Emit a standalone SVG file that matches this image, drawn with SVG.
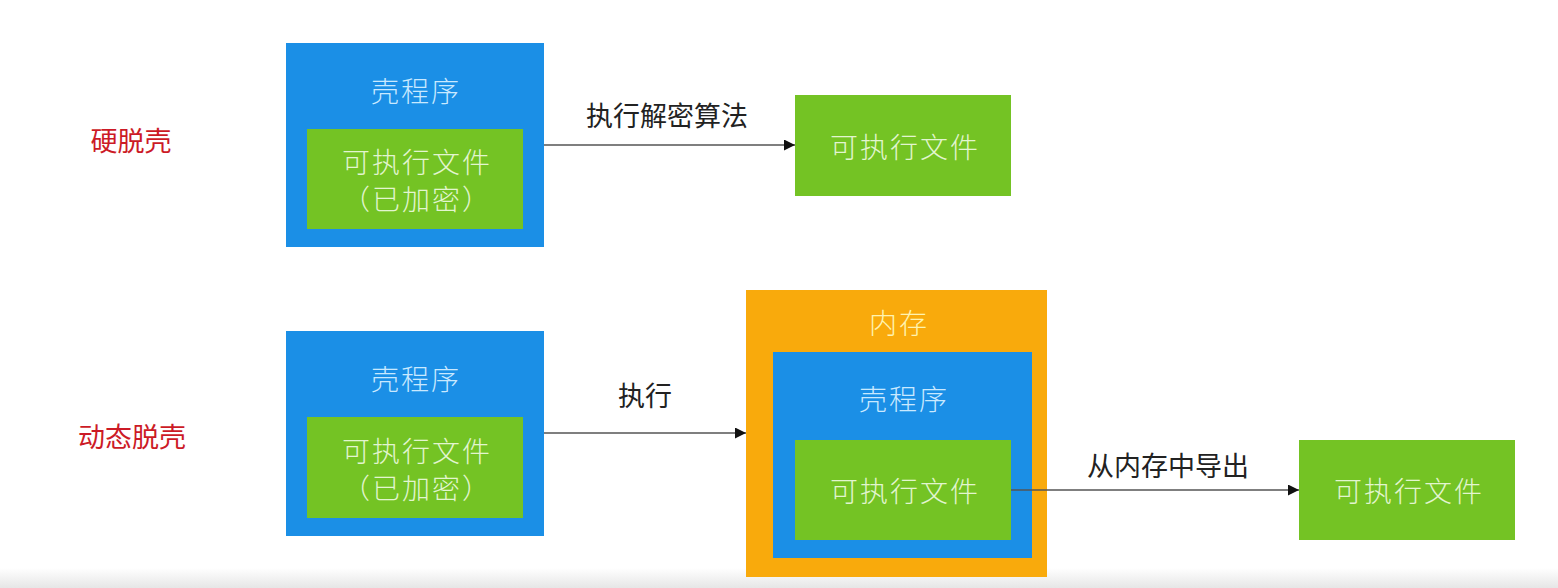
<svg xmlns="http://www.w3.org/2000/svg" width="1558" height="588" viewBox="0 0 1558 588">
<defs>
<marker id="arr" viewBox="0 0 10 10" refX="10" refY="5" markerWidth="11" markerHeight="11" markerUnits="userSpaceOnUse" orient="auto"><path d="M0,0 L10,5 L0,10 z" fill="#111"/></marker>
<linearGradient id="bot" x1="0" y1="0" x2="0" y2="1"><stop offset="0" stop-color="#ffffff"/><stop offset="1" stop-color="#e6e6e6"/></linearGradient>
</defs>
<style>
text{font-family:"Noto Sans CJK SC","Noto Sans",sans-serif;text-anchor:middle;dominant-baseline:central}
.blue{fill:#1b8fe6}
.green{fill:#74c324}
.orange{fill:#f9aa0c}
.tb{fill:#c9e9ff;font-size:28px;font-weight:300;letter-spacing:2px}
.tg{fill:#e2f5cf;font-size:28px;font-weight:300;letter-spacing:2px}
.to{fill:#fff3b0;font-size:28px;font-weight:300;letter-spacing:2px}
.lbl{fill:#222;font-size:27px}
.cat{fill:#cc1a26;font-size:27px}
.edge{stroke:#555;stroke-width:1.5;fill:none;marker-end:url(#arr)}
</style>
<rect width="1558" height="588" fill="#fff"/>
<rect y="568" width="1558" height="20" fill="url(#bot)"/>
<text class="cat" x="131" y="139">硬脱壳</text>
<text class="cat" x="132" y="435">动态脱壳</text>
<g id="shell1">
<rect class="blue" x="286" y="43" width="258" height="204"/>
<text class="tb" x="416" y="90">壳程序</text>
</g>
<g id="exe1">
<rect class="green" x="307" y="129" width="216" height="100"/>
<text class="tg" x="417" y="161">可执行文件</text>
<text class="tg" x="417" y="198">（已加密）</text>
</g>
<g id="exe2">
<rect class="green" x="795" y="95" width="216" height="101"/>
<text class="tg" x="905" y="146">可执行文件</text>
</g>
<g id="shell2">
<rect class="blue" x="286" y="331" width="258" height="205"/>
<text class="tb" x="416" y="378">壳程序</text>
</g>
<g id="exe3">
<rect class="green" x="307" y="417" width="216" height="101"/>
<text class="tg" x="417" y="450">可执行文件</text>
<text class="tg" x="417" y="487">（已加密）</text>
</g>
<g id="mem">
<rect class="orange" x="746" y="290" width="301" height="287"/>
<text class="to" x="899" y="322">内存</text>
</g>
<g id="shell3">
<rect class="blue" x="773" y="352" width="259" height="206"/>
<text class="tb" x="904" y="398">壳程序</text>
</g>
<g id="exe4">
<rect class="green" x="795" y="440" width="216" height="100"/>
<text class="tg" x="905" y="490">可执行文件</text>
</g>
<g id="exe5">
<rect class="green" x="1299" y="440" width="216" height="100"/>
<text class="tg" x="1409" y="490">可执行文件</text>
</g>
<g id="connectors">
<line class="edge" x1="544" y1="145" x2="795" y2="145"/>
<text class="lbl" x="667" y="114">执行解密算法</text>
<line class="edge" x1="544" y1="433" x2="746" y2="433"/>
<text class="lbl" x="645" y="394">执行</text>
<line class="edge" x1="1011" y1="490" x2="1299" y2="490"/>
<text class="lbl" x="1168" y="464">从内存中导出</text>
</g>
</svg>
